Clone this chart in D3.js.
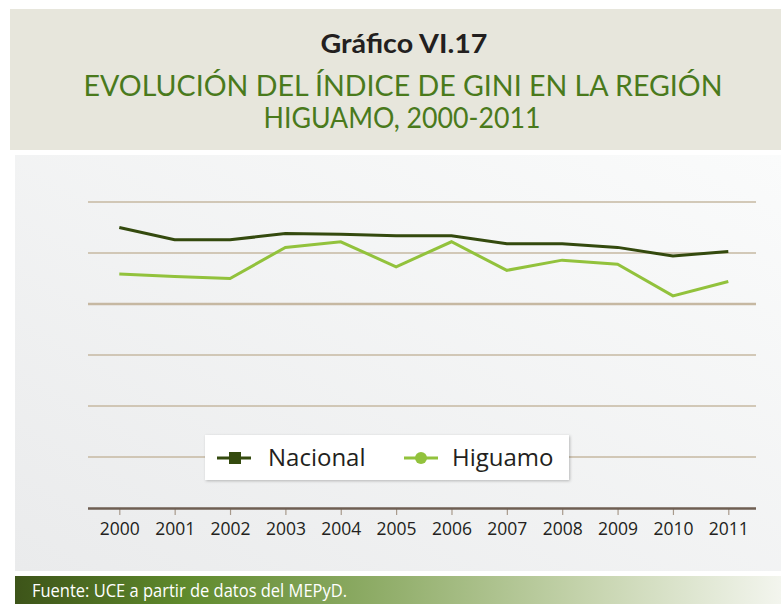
<!DOCTYPE html>
<html>
<head>
<meta charset="utf-8">
<script src="https://cdn.jsdelivr.net/npm/d3@7"></script>
<style>
  body { margin: 0; background: #ffffff; }
  svg { display: block; }
</style>
</head>
<body>
<div id="chart"></div>
<script>
// Data (Gini index)
var years = ["2000", "2001", "2002", "2003", "2004", "2005", "2006", "2007", "2008", "2009", "2010", "2011"];
var nacional = [0.550, 0.526, 0.526, 0.538, 0.537, 0.534, 0.534, 0.518, 0.518, 0.511, 0.494, 0.503];
var higuamo = [0.459, 0.454, 0.450, 0.511, 0.522, 0.473, 0.522, 0.466, 0.486, 0.478, 0.416, 0.444];
var gridTicks = [0.1, 0.2, 0.3, 0.4, 0.5, 0.6];

const width = 781;
const height = 604;

// plot box
var plot = {left: 88, right: 756, top: 202, bottom: 508};

var svg = d3.select("#chart")
            .append("svg")
                .attr("width", width)
                .attr("height", height);

var defs = svg.append("defs");

// panel background gradient
var bg = defs.append("linearGradient")
    .attr("id", "panelGrad")
    .attr("x1", "0%").attr("y1", "100%")
    .attr("x2", "100%").attr("y2", "0%");
bg.append("stop").attr("offset", "0%").attr("stop-color", "#eaebec");
bg.append("stop").attr("offset", "100%").attr("stop-color", "#fafbfb");

// footer gradient
var fg = defs.append("linearGradient")
    .attr("id", "footGrad")
    .attr("x1", "0%").attr("y1", "0%")
    .attr("x2", "100%").attr("y2", "0%");
fg.append("stop").attr("offset", "0%").attr("stop-color", "#3d5419");
fg.append("stop").attr("offset", "22%").attr("stop-color", "#5f8a2c");
fg.append("stop").attr("offset", "50%").attr("stop-color", "#94b06e");
fg.append("stop").attr("offset", "75%").attr("stop-color", "#c6d4ae");
fg.append("stop").attr("offset", "100%").attr("stop-color", "#f3f5ee");

// legend shadow
var shadow = defs.append("filter").attr("id", "legShadow")
    .attr("x", "-10%").attr("y", "-30%").attr("width", "120%").attr("height", "160%");
shadow.append("feDropShadow")
    .attr("dx", 1).attr("dy", 1).attr("stdDeviation", 1.5)
    .attr("flood-color", "#000").attr("flood-opacity", 0.25);

/* Header */
svg.append("rect")
    .attr("x", 10).attr("y", 9)
    .attr("width", width - 10).attr("height", 141)
    .attr("fill", "#e7e6dc");

svg.append("text")
    .attr("x", 404).attr("y", 53)
    .attr("text-anchor", "middle")
    .attr("font-family", "Lato, 'Open Sans', sans-serif")
    .attr("font-weight", "bold")
    .attr("font-size", 27)
    .attr("fill", "#231f20")
    .attr("textLength", 167).attr("lengthAdjust", "spacingAndGlyphs")
    .text("Gráfico VI.17");

svg.append("text")
    .attr("x", 403).attr("y", 96)
    .attr("text-anchor", "middle")
    .attr("font-family", "Lato, 'Open Sans', sans-serif")
    .attr("font-size", 28)
    .attr("fill", "#4a7a1c")
    .attr("textLength", 639).attr("lengthAdjust", "spacingAndGlyphs")
    .text("EVOLUCIÓN DEL ÍNDICE DE GINI EN LA REGIÓN");

svg.append("text")
    .attr("x", 402).attr("y", 128)
    .attr("text-anchor", "middle")
    .attr("font-family", "Lato, 'Open Sans', sans-serif")
    .attr("font-size", 28)
    .attr("fill", "#4a7a1c")
    .attr("textLength", 277).attr("lengthAdjust", "spacingAndGlyphs")
    .text("HIGUAMO, 2000-2011");

/* Chart panel */
svg.append("rect")
    .attr("x", 15).attr("y", 155)
    .attr("width", width - 15).attr("height", 416)
    .attr("fill", "url(#panelGrad)");

// scales
var scaleX = d3.scalePoint()
    .domain(years)
    .range([119.3, 728.3]);

var scaleY = d3.scaleLinear()
    .domain([0, 0.6])
    .range([plot.bottom, plot.top]);

// gridlines
svg.append("g")
    .selectAll("line")
    .data(gridTicks)
    .enter()
    .append("line")
        .attr("x1", plot.left).attr("x2", plot.right)
        .attr("y1", function(d) { return scaleY(d); })
        .attr("y2", function(d) { return scaleY(d); })
        .attr("stroke", "#c6b8a2")
        .attr("stroke-width", function(d) { return Math.abs(d - 0.4) < 1e-9 ? 2.5 : (Math.abs(d - 0.5) < 1e-9 ? 1.7 : 1.3); });

// x axis
var axisX = svg.append("g")
    .attr("transform", "translate(0," + plot.bottom + ")")
    .call(d3.axisBottom(scaleX).tickSize(7).tickPadding(8));

axisX.select(".domain").remove();
axisX.selectAll(".tick line").attr("stroke", "#a89a8c").attr("stroke-width", 1.2);
axisX.selectAll(".tick text")
    .attr("font-family", "'Open Sans', sans-serif")
    .attr("font-size", 17.5)
    .attr("fill", "#231f20");

svg.append("line")
    .attr("x1", plot.left).attr("x2", plot.right)
    .attr("y1", plot.bottom + 0.5).attr("y2", plot.bottom + 0.5)
    .attr("stroke", "#6e5e52")
    .attr("stroke-width", 2.5);

// lines
var line = d3.line()
    .x(function(d, i) { return scaleX(years[i]); })
    .y(function(d) { return scaleY(d); });

svg.append("path")
    .datum(higuamo)
    .attr("d", line)
    .attr("fill", "none")
    .attr("stroke", "#92c23c")
    .attr("stroke-width", 3);

svg.append("path")
    .datum(nacional)
    .attr("d", line)
    .attr("fill", "none")
    .attr("stroke", "#344a0e")
    .attr("stroke-width", 3);

/* Legend */
var legend = svg.append("g");

legend.append("rect")
    .attr("x", 205).attr("y", 435)
    .attr("width", 364).attr("height", 45)
    .attr("fill", "#ffffff")
    .attr("filter", "url(#legShadow)");

legend.append("line")
    .attr("x1", 217).attr("x2", 251).attr("y1", 458).attr("y2", 458)
    .attr("stroke", "#344a0e").attr("stroke-width", 3);
legend.append("rect")
    .attr("x", 229).attr("y", 452).attr("width", 12).attr("height", 12)
    .attr("fill", "#344a0e");
legend.append("text")
    .attr("x", 268).attr("y", 466)
    .attr("font-family", "'Open Sans', sans-serif")
    .attr("font-size", 24)
    .attr("fill", "#231f20")
    .text("Nacional");

legend.append("line")
    .attr("x1", 404).attr("x2", 438).attr("y1", 458).attr("y2", 458)
    .attr("stroke", "#92c23c").attr("stroke-width", 3);
legend.append("circle")
    .attr("cx", 421).attr("cy", 458).attr("r", 6)
    .attr("fill", "#92c23c");
legend.append("text")
    .attr("x", 452).attr("y", 466)
    .attr("font-family", "'Open Sans', sans-serif")
    .attr("font-size", 24)
    .attr("fill", "#231f20")
    .text("Higuamo");

/* Footer */
svg.append("rect")
    .attr("x", 15).attr("y", 576)
    .attr("width", width - 15).attr("height", height - 576)
    .attr("fill", "url(#footGrad)");

svg.append("text")
    .attr("x", 32).attr("y", 597)
    .attr("font-family", "'Liberation Sans Narrow', 'Open Sans', sans-serif")
    .attr("font-size", 19)
    .attr("fill", "#ffffff")
    .attr("textLength", 315).attr("lengthAdjust", "spacingAndGlyphs")
    .text("Fuente: UCE a partir de datos del MEPyD.");
</script>
</body>
</html>
